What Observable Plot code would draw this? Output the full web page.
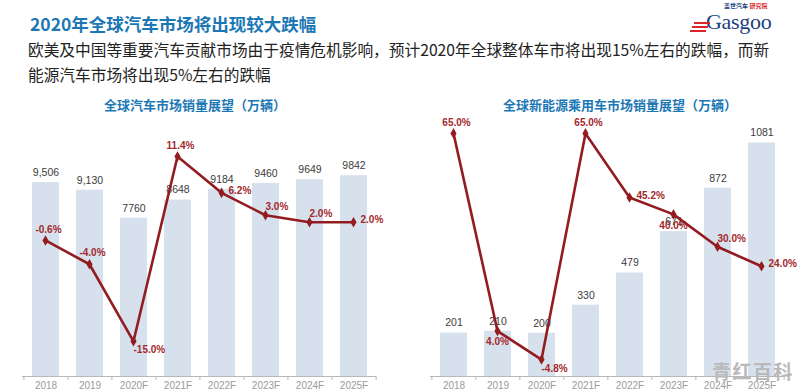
<!DOCTYPE html>
<html><head><meta charset="utf-8">
<script src="https://cdn.jsdelivr.net/npm/d3@7"></script>
<script src="https://cdn.jsdelivr.net/npm/@observablehq/plot@0.6"></script>
<style>
body{margin:0;background:#fff;width:800px;height:390px;overflow:hidden;position:relative;font-family:"Noto Sans CJK SC","Noto Sans",sans-serif}
.abs{position:absolute;white-space:nowrap}
#title{left:30px;top:11px;font-size:17.5px;font-weight:700;color:#1c78b5;letter-spacing:0}
#sub{left:28px;top:38px;font-size:15.7px;line-height:24.5px;color:#222}
.ptitle{top:95px;font-size:13px;font-weight:700;color:#1c78b5;transform:translateX(-50%)}
#logo1{left:724px;top:3px;font-size:6px;line-height:6px;font-weight:700;color:#1d3f7f}
#logo1 span{color:#d9262c}
#logo2{left:706px;top:10px;font-family:"Liberation Serif","DejaVu Serif",serif;font-size:22px;line-height:24px;color:#1d3f7f;letter-spacing:-0.3px}
.stripe{position:absolute;height:2px;background:#d9262c}
#wm{left:712px;top:361px;font-size:19px;line-height:19px;font-weight:700;color:#b9b9b9;letter-spacing:1.5px;z-index:5}
.panel{position:absolute;top:114px;width:400px;height:276px}
.panel svg{position:absolute;left:0;top:0}
</style></head><body>
<div class="abs" id="title">2020年全球汽车市场将出现较大跌幅</div>
<div class="abs" id="sub">欧美及中国等重要汽车贡献市场由于疫情危机影响，预计2020年全球整体车市将出现15%左右的跌幅，而新<br>能源汽车市场将出现5%左右的跌幅</div>
<div class="abs ptitle" style="left:195px">全球汽车市场销量展望（万辆）</div>
<div class="abs ptitle" style="left:620px">全球新能源乘用车市场销量展望（万辆）</div>
<div class="abs" id="logo1">盖世汽车 <span>研究院</span></div>
<div class="abs" id="logo2">Gasgoo</div>
<div class="stripe" style="left:694px;top:22px;width:16px"></div>
<div class="stripe" style="left:692px;top:26px;width:16px"></div>
<div class="stripe" style="left:690px;top:30px;width:16px"></div>
<div class="panel" id="left" style="left:0"></div>
<div class="panel" id="right" style="left:400px"></div>
<div class="abs" id="wm">青红百科</div>
<script>
const years = ["2018","2019","2020F","2021F","2022F","2023F","2024F","2025F"];
const globalSales = [9506,9130,7760,8648,9184,9460,9649,9842];
const globalSalesLabels = ["9,506","9,130","7760","8648","9184","9460","9649","9842"];
const globalGrowth = [-0.6,-4.0,-15.0,11.4,6.2,3.0,2.0,2.0];
const nevSales = [201,210,200,330,479,671,872,1081];
const nevSalesLabels = ["201","210","200","330","479","671","872","1081"];
const nevGrowth = [65.0,4.0,-4.8,65.0,45.2,40.0,30.0,24.0];
const globalGrowthPlacement = ["top","top","bottomright","top","right","topright","topright","right"];
const nevGrowthPlacement = ["top","bottom","bottomright","top","right","bottom","topright","right"];

const W = 400, H = 276, MB = 14;
const RED = "#921c20", LABELRED = "#a3282c", BAR = "#d7e1ee", AXIS = "#b8b8b8";
const FONT = "Liberation Sans, Arial, sans-serif";
const place = {
  top: {textAnchor: "middle", dx: 3, dy: -11},
  bottom: {textAnchor: "middle", dx: 0, dy: 11},
  right: {textAnchor: "start", dx: 7, dy: -2},
  topright: {textAnchor: "start", dx: 0, dy: -8},
  bottomright: {textAnchor: "start", dx: 0, dy: 9}
};

function panel(el, sales, salesLabels, growth, placement, ml, mr, yMax, gDomain) {
  const rows = years.map((y, i) => ({year: y, sales: sales[i], label: salesLabels[i], growth: growth[i], pl: placement[i]}));
  const step = (W - ml - mr) / years.length;
  const xs = {domain: years, paddingInner: 0.39, paddingOuter: 0.195, label: null};
  const common = {width: W, height: H, marginTop: 0, marginBottom: MB, marginLeft: ml, marginRight: mr,
    style: {background: "transparent", overflow: "visible", fontFamily: FONT}};
  const bars = Plot.plot({
    ...common,
    x: xs,
    y: {domain: [0, yMax], axis: null},
    marks: [
      Plot.barY(rows, {x: "year", y: "sales", fill: BAR}),
      Plot.text(rows, {x: "year", y: "sales", text: "label", dy: -10, fontSize: 10.5, fill: "#3c3c3c"}),
      Plot.ruleY([0], {stroke: AXIS}),
      Plot.ruleX(years, {x: d => d, y1: 0, y2: 0, insetBottom: -4, dx: -step / 2, stroke: AXIS}),
      Plot.ruleX([years[years.length - 1]], {x: d => d, y1: 0, y2: 0, insetBottom: -4, dx: step / 2, stroke: AXIS}),
      Plot.axisX({tickSize: 0, tickPadding: 5, fontSize: 10, color: "#9a9a9a", label: null})
    ]
  });
  const textMarks = Object.keys(place).map(k => Plot.text(rows.filter(d => d.pl === k), {
    x: "year", y: "growth", text: d => d.growth.toFixed(1) + "%",
    fontSize: 10, fill: LABELRED, fontWeight: 600, ...place[k]
  }));
  const line = Plot.plot({
    ...common,
    x: {...xs, axis: null},
    y: {domain: gDomain, axis: null},
    marks: [
      Plot.line(rows, {x: "year", y: "growth", stroke: RED, strokeWidth: 2.6}),
      Plot.dot(rows, {x: "year", y: "growth", r: 3.2, fill: RED, symbol: "diamond"}),
      ...textMarks
    ]
  });
  el.appendChild(bars);
  el.appendChild(line);
}

panel(document.getElementById("left"), globalSales, globalSalesLabels, globalGrowth, globalGrowthPlacement,
  22, 24, 12843, [-20.03, 17.39]);
panel(document.getElementById("right"), nevSales, nevSalesLabels, nevGrowth, nevGrowthPlacement,
  30, 15.6, 1213, [-10.03, 70.83]);
</script>
</body></html>
